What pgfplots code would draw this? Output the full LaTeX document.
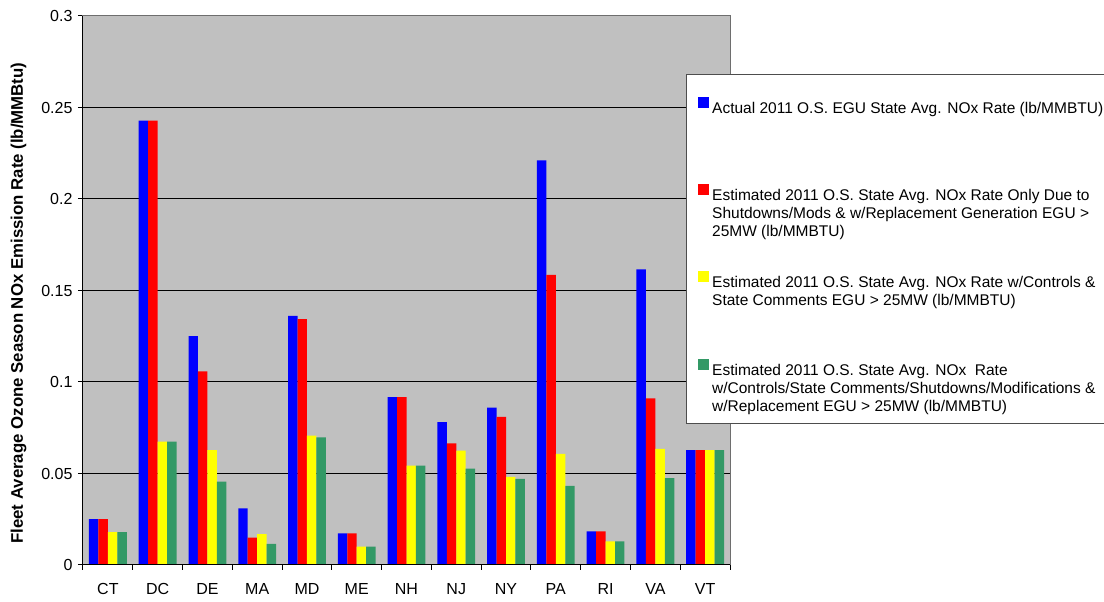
\documentclass[border=0pt]{standalone}
\usepackage{fontspec}
\setmainfont{Liberation Sans}
\usepackage{pgfplots}
\pgfplotsset{compat=1.18}

\definecolor{actualblue}{RGB}{0,0,255}
\definecolor{shutred}{RGB}{255,0,0}
\definecolor{ctrlyellow}{RGB}{255,255,0}
\definecolor{allgreen}{RGB}{51,153,102}
\definecolor{plotgray}{RGB}{192,192,192}
\definecolor{framegray}{RGB}{110,110,110}

% legend text block, top-aligned on its first line
\newcommand{\legtext}[1]{\parbox[t]{400pt}{\fontsize{15.5}{18}\selectfont\raggedright\strut #1}}

\begin{document}
\begin{tikzpicture}[x=1pt,y=1pt]
\path[use as bounding box] (0,0) rectangle (1104,602);
\begin{axis}[
  at={(83pt,37pt)}, anchor=south west,
  scale only axis, width=647pt, height=549pt,
  ybar, bar width=0.19,
  xmin=-0.5, xmax=12.5, ymin=0, ymax=0.3,
  clip=false,
  axis background/.style={fill=plotgray},
  axis line style={draw=framegray, line width=1pt},
  xtick={0,...,12},
  xticklabels={CT,DC,DE,MA,MD,ME,NH,NJ,NY,PA,RI,VA,VT},
  major x tick style={draw=none},
  minor xtick={-0.5,0.5,...,12.5},
  ytick={0,0.05,0.1,0.15,0.2,0.25,0.3},
  yticklabels={0,0.05,0.1,0.15,0.2,0.25,0.3},
  tick align=outside, tick pos=left,
  major tick length=5pt, minor tick length=5pt,
  tick style={black, line width=1pt},
  ymajorgrids, grid style={black, line width=1pt},
  tick label style={font=\fontsize{16}{19}\selectfont},
  xticklabel style={yshift=-10pt},
  yticklabel style={xshift=-2pt},
  ylabel={Fleet Average Ozone Season NOx Emission Rate (lb/MMBtu)},
  ylabel style={font=\fontsize{16.8}{19}\selectfont\bfseries,
    at={(axis description cs:-0.0997,0.477)}, anchor=center, rotate=0},
  legend image code/.code={\fill[#1] (0pt,0pt) rectangle (11pt,11pt);},
  legend style={draw=none, fill=none, inner sep=0pt,
    at={(rel axis cs:0.9505,0.8535)}, anchor=north west,
    nodes={inner sep=0pt}, column sep=3pt, row sep=69.3pt},
]
\addplot[fill=actualblue, draw=none, bar shift=-0.285] coordinates {
  (0,0.0251) (1,0.2428) (2,0.1251) (3,0.0310) (4,0.1362) (5,0.0173) (6,0.0918)
  (7,0.0781) (8,0.0860) (9,0.2211) (10,0.0184) (11,0.1616) (12,0.0628)};
\addlegendentry{\legtext{Actual 2011 O.S. EGU State Avg. NOx Rate (lb/MMBTU)}}
\addplot[fill=shutred, draw=none, bar shift=-0.095] coordinates {
  (0,0.0251) (1,0.2428) (2,0.1058) (3,0.0149) (4,0.1344) (5,0.0173) (6,0.0918)
  (7,0.0665) (8,0.0809) (9,0.1586) (10,0.0184) (11,0.0911) (12,0.0628)};
\addlegendentry{\legtext{Estimated 2011 O.S. State Avg. NOx Rate Only Due to\\Shutdowns/Mods \& w/Replacement Generation EGU >\\25MW (lb/MMBTU)}}
\addplot[fill=ctrlyellow, draw=none, bar shift=0.095] coordinates {
  (0,0.0179) (1,0.0674) (2,0.0628) (3,0.0169) (4,0.0707) (5,0.0100) (6,0.0543)
  (7,0.0625) (8,0.0481) (9,0.0607) (10,0.0129) (11,0.0634) (12,0.0628)};
\addlegendentry{\legtext{Estimated 2011 O.S. State Avg. NOx Rate w/Controls \&\\State Comments EGU > 25MW (lb/MMBTU)}}
\addplot[fill=allgreen, draw=none, bar shift=0.285] coordinates {
  (0,0.0179) (1,0.0674) (2,0.0455) (3,0.0115) (4,0.0698) (5,0.0100) (6,0.0543)
  (7,0.0526) (8,0.0470) (9,0.0432) (10,0.0129) (11,0.0475) (12,0.0628)};
\addlegendentry{\legtext{Estimated 2011 O.S. State Avg. NOx\ \ Rate\\w/Controls/State Comments/Shutdowns/Modifications \&\\w/Replacement EGU > 25MW (lb/MMBTU)}}
% left and bottom axis lines in black
\draw[black, line width=1pt] (rel axis cs:0,1) -- (rel axis cs:0,0) -- (rel axis cs:1,0);
% legend frame
\draw[fill=white, draw=framegray!70!black, line width=1pt]
  (rel axis cs:0.93199,0.89253) rectangle (rel axis cs:1.6028,0.25683);
\end{axis}
\end{tikzpicture}
\end{document}
